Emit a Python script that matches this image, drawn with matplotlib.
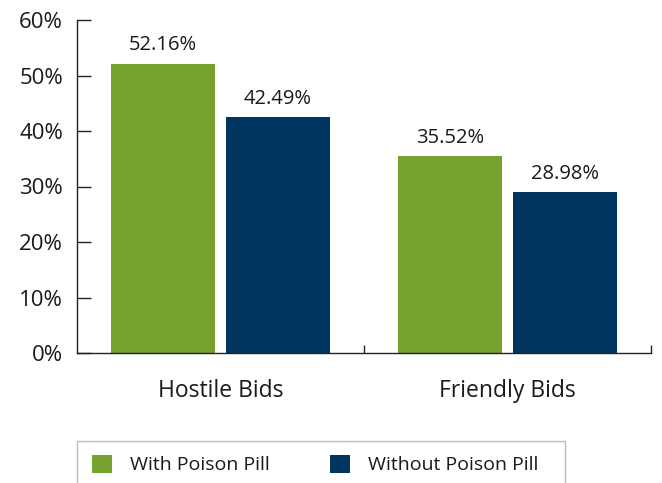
import numpy as np
import matplotlib.pyplot as plt
from matplotlib.patches import Rectangle
from matplotlib.ticker import FixedLocator, NullFormatter

plt.rcParams['font.family'] = ['Open Sans', 'DejaVu Sans']

categories = ['Hostile Bids', 'Friendly Bids']
series_names = ['With Poison Pill', 'Without Poison Pill']
with_pill = [52.16, 35.52]
without_pill = [42.49, 28.98]
y_ticks = [0, 10, 20, 30, 40, 50, 60]

green = '#78a22f'
navy = '#003560'
text_color = '#1a1a1a'
line_color = '#222222'

W, H = 662, 483
fig = plt.figure(figsize=(W / 100, H / 100), dpi=100)
ax = fig.add_axes([77 / W, 1 - 353 / H, (651 - 77) / W, (353 - 20) / H])

x = np.arange(len(categories))
width = 0.362
offset = 0.2

b1 = ax.bar(x - offset, with_pill, width, color=green, label=series_names[0])
b2 = ax.bar(x + offset, without_pill, width, color=navy, label=series_names[1])

for bars, vals in ((b1, with_pill), (b2, without_pill)):
    for bar, v in zip(bars, vals):
        ax.annotate(f'{v:.2f}%', (bar.get_x() + bar.get_width() / 2, v),
                    xytext=(0, 6), textcoords='offset points',
                    ha='center', va='bottom', fontsize=14.5, color=text_color)

ax.set_xlim(-0.5, 1.5)
ax.set_ylim(0, 60)
ax.set_yticks(y_ticks)
ax.set_yticklabels([f'{t}%' for t in y_ticks], fontsize=16, color=text_color)
ax.tick_params(axis='y', direction='in', length=10, width=1, pad=10, color=line_color)

ax.set_xticks(x)
ax.set_xticklabels(categories, fontsize=16.5, color=text_color)
ax.tick_params(axis='x', which='major', length=0, pad=19)
ax.xaxis.set_minor_locator(FixedLocator([0.5, 1.5]))
ax.xaxis.set_minor_formatter(NullFormatter())
ax.tick_params(axis='x', which='minor', direction='in', length=6, width=1, color=line_color)

for side in ('top', 'right'):
    ax.spines[side].set_visible(False)
for side in ('left', 'bottom'):
    ax.spines[side].set_color(line_color)
    ax.spines[side].set_linewidth(1)

# legend box, running off the bottom edge
fig.patches.append(Rectangle((77 / W, -0.05), (565 - 77) / W, 0.05 + 1 - 441 / H,
                             transform=fig.transFigure, fill=False,
                             edgecolor='#bbbbbb', linewidth=1))

leg = fig.legend(handles=[b1, b2], loc='center left',
                 bbox_to_anchor=(77 / W, 1 - 464.5 / H), bbox_transform=fig.transFigure,
                 ncol=2, fontsize=14, frameon=False,
                 handlelength=1.0, handleheight=1.1, handletextpad=0.95,
                 columnspacing=3.1, borderpad=0, borderaxespad=0.78)
for t in leg.get_texts():
    t.set_color(text_color)

fig.savefig('out.png', dpi=100)
